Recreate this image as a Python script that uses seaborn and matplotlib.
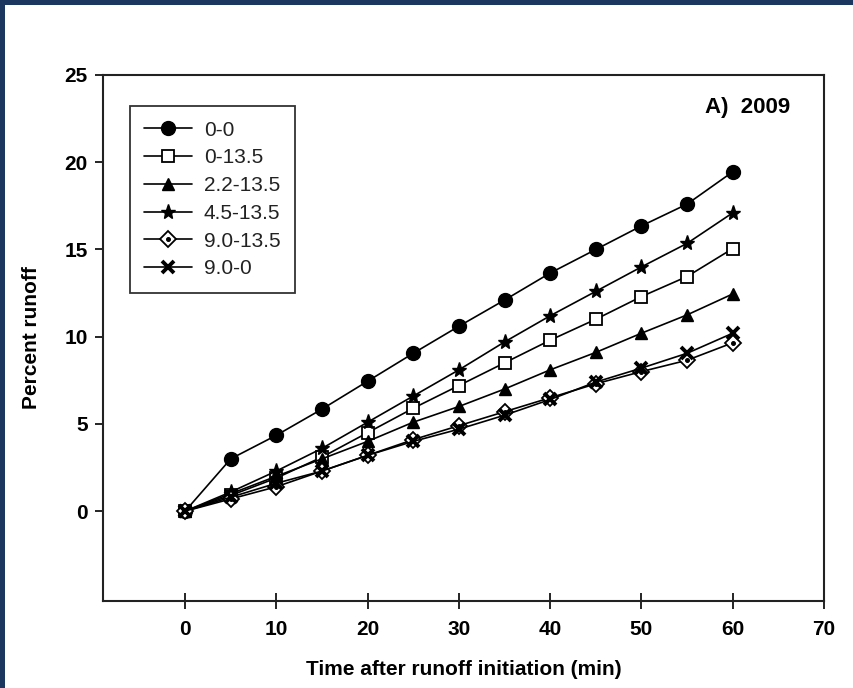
import matplotlib
matplotlib.use("Agg")
import matplotlib.pyplot as plt
from matplotlib.patches import Rectangle
from matplotlib.legend_handler import HandlerTuple
import seaborn as sns
import pandas as pd

# ---- data ----
time_min = [0, 5, 10, 15, 20, 25, 30, 35, 40, 45, 50, 55, 60]
labels = ["0-0", "0-13.5", "2.2-13.5", "4.5-13.5", "9.0-13.5", "9.0-0"]
s_0_0 = [0, 3.0, 4.35, 5.85, 7.45, 9.05, 10.6, 12.1, 13.65, 15.0, 16.35, 17.6, 19.45]
s_0_135 = [0, 0.9, 1.9, 3.1, 4.5, 5.9, 7.2, 8.5, 9.8, 11.0, 12.3, 13.45, 15.05]
s_22_135 = [0, 1.0, 2.0, 3.0, 4.0, 5.1, 6.0, 7.0, 8.1, 9.1, 10.2, 11.25, 12.45]
s_45_135 = [0, 1.1, 2.3, 3.6, 5.1, 6.6, 8.1, 9.7, 11.2, 12.6, 14.0, 15.35, 17.1]
s_90_135 = [0, 0.7, 1.4, 2.3, 3.2, 4.1, 4.9, 5.7, 6.5, 7.3, 8.0, 8.65, 9.65]
s_90_0 = [0, 0.8, 1.6, 2.3, 3.2, 4.0, 4.7, 5.5, 6.4, 7.4, 8.2, 9.05, 10.2]
series = [s_0_0, s_0_135, s_22_135, s_45_135, s_90_135, s_90_0]

xticks = [0, 10, 20, 30, 40, 50, 60, 70]
yticks = [0, 5, 10, 15, 20, 25]

sns.set_theme(style="white")
plt.rcParams["font.family"] = ["Liberation Sans", "DejaVu Sans"]

fig = plt.figure(figsize=(8.54, 6.88), dpi=100)
fig.patch.set_facecolor("#1B365F")
fig.patches.append(Rectangle((5 / 854, 0), 1, 1 - 5 / 688, transform=fig.transFigure,
                             facecolor="white", edgecolor="none", zorder=-10))
ax = fig.add_axes([103 / 854, 1 - 601 / 688, (824 - 103) / 854, (601 - 75) / 688])
ax.set_zorder(5)

styles = [
    dict(marker="o", markersize=10, mfc="black", mec="black", mew=1),
    dict(marker="s", markersize=8, mfc="white", mec="black", mew=1.3),
    dict(marker="^", markersize=9, mfc="black", mec="black", mew=1),
    dict(marker="*", markersize=11, mfc="black", mec="black", mew=1),
    dict(marker="D", markersize=8, mfc="white", mec="black", mew=1.3),
    dict(marker="x", markersize=9, mfc="black", mec="black", mew=2.8),
]

handles = []
for lab, vals, st in zip(labels, series, styles):
    df = pd.DataFrame({"t": time_min, "v": vals})
    sns.lineplot(data=df, x="t", y="v", ax=ax, color="black", linewidth=1.2,
                 estimator=None, legend=False, **st)
    ln = ax.lines[-1]
    if st["marker"] == "D":
        sns.lineplot(data=df, x="t", y="v", ax=ax, color="black", linewidth=0,
                     estimator=None, legend=False, marker="o", markersize=2.8,
                     mfc="black", mec="black")
        dot = ax.lines[-1]
        handles.append((ln, dot))
    else:
        handles.append(ln)

ax.set_xlim(-9, 70)
ax.set_ylim(-5.15, 25)
ax.set_xticks(xticks)
ax.set_yticks(yticks)
ax.set_xticklabels([str(v) for v in xticks], fontweight="bold", fontsize=15)
ax.set_yticklabels([str(v) for v in yticks], fontweight="bold", fontsize=15)
ax.tick_params(axis="x", direction="inout", length=12, width=1.2, color="black", pad=8,
               labelcolor="black")
ax.tick_params(axis="y", direction="out", length=6, width=1.2, color="black", pad=5, left=True,
               labelcolor="black")
ax.tick_params(axis="x", bottom=True)
for sp in ax.spines.values():
    sp.set_color("#222222")
    sp.set_linewidth(1.5)

ax.set_xlabel("Time after runoff initiation (min)", fontweight="bold", fontsize=15,
              labelpad=15, color="black")
ax.set_ylabel("Percent runoff", fontweight="bold", fontsize=15, labelpad=17, color="black")

ax.text(0.953, 0.939, "A)  2009", transform=ax.transAxes, ha="right", va="center",
        fontsize=16, fontweight="bold", color="black")

leg = ax.legend(handles, labels, loc="upper left", bbox_to_anchor=(0.037, 0.941),
                borderaxespad=0, frameon=True, fancybox=False, fontsize=15,
                handlelength=2.3, handletextpad=0.55, labelspacing=0.42,
                borderpad=0.7, handler_map={tuple: HandlerTuple(ndivide=1)})
leg.get_frame().set_edgecolor("black")
leg.get_frame().set_linewidth(1.3)
for t in leg.get_texts():
    t.set_color("#222222")

fig.savefig("out.png", dpi=100, facecolor=fig.get_facecolor())
